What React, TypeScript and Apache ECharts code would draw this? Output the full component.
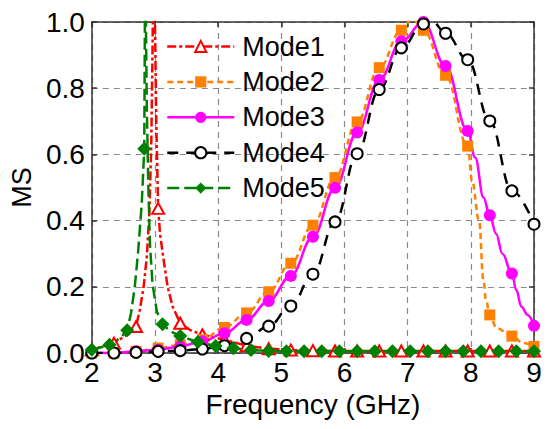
import React, { useEffect, useRef } from "react";
import * as echarts from "echarts";

const FONT = "'Liberation Sans', Arial, sans-serif";

const xRange = [2, 9];
const yRange = [0, 1];
const seriesNames = ["Mode1", "Mode2", "Mode3", "Mode4", "Mode5"];

// [frequency GHz, MS, marker shown (1) or not (0)]
const mode1: number[][] = [
  [2.0, 0.01, 1], [2.35, 0.03, 1], [2.6, 0.06, 0], [2.7, 0.08, 1],
  [2.76, 0.13, 0], [2.82, 0.2, 0], [2.87, 0.29, 0], [2.91, 0.42, 0],
  [2.94, 0.62, 0], [2.96, 0.9, 0], [2.98, 1.3, 0], [3.0, 1.0, 0],
  [3.02, 0.7, 0], [3.05, 0.437, 1], [3.08, 0.36, 0], [3.13, 0.29, 0],
  [3.2, 0.2, 0], [3.28, 0.14, 0], [3.4, 0.09, 1], [3.55, 0.07, 0],
  [3.75, 0.055, 1], [4.1, 0.04, 1], [4.45, 0.022, 1], [4.8, 0.013, 1],
  [5.15, 0.009, 1], [5.5, 0.007, 1], [5.85, 0.006, 1], [6.2, 0.006, 1],
  [6.55, 0.006, 1], [6.9, 0.006, 1], [7.25, 0.006, 1], [7.6, 0.006, 1],
  [7.95, 0.006, 1], [8.3, 0.006, 1], [8.65, 0.006, 1], [9.0, 0.006, 1],
];

const mode2: number[][] = [
  [2.0, 0.0, 1], [2.35, 0.0, 1], [2.7, 0.005, 1], [3.05, 0.015, 1],
  [3.4, 0.025, 1], [3.75, 0.04, 1], [4.1, 0.077, 1], [4.45, 0.121, 1],
  [4.8, 0.185, 1], [5.15, 0.271, 1], [5.5, 0.386, 1], [5.85, 0.53, 1],
  [6.2, 0.698, 1], [6.55, 0.862, 1], [6.9, 0.975, 1], [7.07, 1.01, 0],
  [7.25, 0.975, 1], [7.6, 0.839, 1], [7.95, 0.625, 1], [8.02, 0.52, 0],
  [8.13, 0.4, 0], [8.2, 0.22, 0], [8.24, 0.16, 0], [8.3, 0.115, 1],
  [8.41, 0.075, 0], [8.65, 0.051, 1], [8.83, 0.03, 0], [9.0, 0.02, 1],
];

const mode3: number[][] = [
  [2.0, 0.0, 1], [2.35, 0.0, 1], [2.7, 0.005, 1], [3.05, 0.01, 1],
  [3.4, 0.02, 1], [3.75, 0.035, 1], [4.1, 0.06, 1], [4.45, 0.1, 1],
  [4.8, 0.157, 1], [5.15, 0.233, 1], [5.5, 0.351, 1], [5.85, 0.499, 1],
  [6.2, 0.666, 1], [6.55, 0.825, 1], [6.9, 0.942, 1], [7.25, 1.0, 1],
  [7.6, 0.867, 1], [7.95, 0.671, 1], [8.07, 0.59, 0], [8.2, 0.47, 0],
  [8.3, 0.416, 1], [8.4, 0.36, 0], [8.5, 0.3, 0], [8.65, 0.24, 1],
  [8.72, 0.19, 0], [8.8, 0.14, 0], [8.9, 0.115, 0], [9.0, 0.082, 1],
];

const mode4: number[][] = [
  [2.0, 0.0, 1], [2.35, 0.0, 1], [2.7, 0.002, 1], [3.05, 0.005, 1],
  [3.4, 0.007, 1], [3.75, 0.012, 1], [4.1, 0.022, 1], [4.45, 0.044, 1],
  [4.8, 0.081, 1], [5.15, 0.142, 1], [5.5, 0.238, 1], [5.85, 0.396, 1],
  [6.2, 0.602, 1], [6.55, 0.796, 1], [6.9, 0.922, 1], [7.25, 0.994, 1],
  [7.4, 1.0, 0], [7.6, 0.966, 1], [7.95, 0.886, 1], [8.3, 0.701, 1],
  [8.65, 0.49, 1], [9.0, 0.389, 1],
];

const mode5: number[][] = [
  [2.0, 0.01, 1], [2.28, 0.025, 1], [2.45, 0.045, 0], [2.56, 0.069, 1],
  [2.62, 0.12, 0], [2.68, 0.2, 0], [2.73, 0.3, 0], [2.79, 0.45, 0],
  [2.83, 0.617, 1], [2.845, 1.2, 0], [2.87, 0.75, 0], [2.895, 0.5, 0],
  [2.92, 0.33, 0], [2.96, 0.21, 0], [3.03, 0.125, 0], [3.12, 0.087, 1],
  [3.25, 0.065, 0], [3.4, 0.051, 1], [3.68, 0.033, 1], [3.96, 0.021, 1],
  [4.24, 0.014, 1], [4.52, 0.009, 1], [4.8, 0.006, 1], [5.08, 0.005, 1],
  [5.36, 0.005, 1], [5.64, 0.005, 1], [5.92, 0.005, 1], [6.2, 0.005, 1],
  [6.48, 0.005, 1], [6.76, 0.005, 1], [7.04, 0.005, 1], [7.32, 0.005, 1],
  [7.6, 0.005, 1], [7.88, 0.005, 1], [8.16, 0.005, 1], [8.44, 0.005, 1],
  [8.72, 0.005, 1], [9.0, 0.005, 1],
];

const toData = (arr: number[][]) =>
  arr.map((p) => (p[2] ? { value: [p[0], p[1]] } : { value: [p[0], p[1]], symbol: "none" }));

export default function App() {
  const ref = useRef<HTMLDivElement>(null);
  useEffect(() => {
    if (!ref.current) return;
    const chart = echarts.init(ref.current, undefined, { renderer: "svg" });
    const axisLine = { show: true, onZero: false, lineStyle: { color: "#333", width: 1.5 } };
    const axisTick = { show: true, inside: true, length: 5, lineStyle: { color: "#333", width: 1.5 } };
    const splitLine = { show: true, lineStyle: { color: "#8a8a8a", width: 1.2, type: [6, 5] } };
    const common = {
      type: "line" as const,
      showAllSymbol: true,
      clip: true,
      emphasis: { disabled: true },
      z: 2,
    };
    chart.setOption({
      animation: false,
      grid: { left: 88, right: 16, top: 22, bottom: 76, show: false },
      legend: {
        orient: "vertical",
        left: 161,
        top: 28,
        itemWidth: 67,
        itemHeight: 14,
        itemGap: 8.4,
        data: seriesNames,
        selectedMode: false,
        lineStyle: { width: 2.5 },
        textStyle: { fontSize: 27, lineHeight: 27, color: "#000", fontFamily: FONT, padding: [0, 0, 0, 3] },
      },
      xAxis: [
        {
          type: "value",
          min: xRange[0],
          max: xRange[1],
          interval: 1,
          axisLine,
          axisTick,
          splitLine,
          axisLabel: { fontSize: 28, color: "#000", fontFamily: FONT, margin: 5 },
          name: "Frequency (GHz)",
          nameLocation: "middle",
          nameGap: 37,
          nameTextStyle: { fontSize: 28, color: "#000", fontFamily: FONT },
        },
        {
          type: "value",
          position: "top",
          min: xRange[0],
          max: xRange[1],
          interval: 1,
          axisLine,
          axisTick,
          splitLine: { show: false },
          axisLabel: { show: false },
        },
      ],
      yAxis: [
        {
          type: "value",
          min: yRange[0],
          max: yRange[1],
          interval: 0.2,
          axisLine,
          axisTick,
          splitLine,
          axisLabel: {
            fontSize: 28,
            color: "#000",
            fontFamily: FONT,
            margin: 7,
            formatter: (v: number) => v.toFixed(1),
          },
          name: "MS",
          nameLocation: "middle",
          nameGap: 54,
          nameTextStyle: { fontSize: 27, color: "#000", fontFamily: FONT },
        },
        {
          type: "value",
          position: "right",
          min: yRange[0],
          max: yRange[1],
          interval: 0.2,
          axisLine,
          axisTick,
          splitLine: { show: false },
          axisLabel: { show: false },
        },
      ],
      series: [
        {
          ...common,
          name: seriesNames[0],
          data: toData(mode1),
          symbol: "emptyTriangle",
          symbolSize: [12, 11],
          lineStyle: { color: "#ff0000", width: 2.5, type: [9, 3, 3, 3] },
          itemStyle: { color: "#ff0000", borderWidth: 1.5 },
        },
        {
          ...common,
          name: seriesNames[1],
          data: toData(mode2),
          smooth: 0.4,
          smoothMonotone: "x",
          symbol: "rect",
          symbolSize: 11,
          lineStyle: { color: "#ff8000", width: 2.5, type: [6, 4] },
          itemStyle: { color: "#ff8000", borderWidth: 0 },
        },
        {
          ...common,
          name: seriesNames[2],
          data: toData(mode3),
          smooth: 0.4,
          smoothMonotone: "x",
          symbol: "circle",
          symbolSize: 12,
          lineStyle: { color: "#ff00ff", width: 2.5, type: "solid" },
          itemStyle: { color: "#ff00ff", borderWidth: 0 },
        },
        {
          ...common,
          name: seriesNames[3],
          data: toData(mode4),
          smooth: 0.4,
          smoothMonotone: "x",
          symbol: "emptyCircle",
          symbolSize: 11,
          lineStyle: { color: "#000000", width: 2.5, type: [11, 8] },
          itemStyle: { color: "#000000", borderWidth: 1.2 },
        },
        {
          ...common,
          name: seriesNames[4],
          data: toData(mode5),
          symbol: "diamond",
          symbolSize: 14,
          lineStyle: { color: "#008000", width: 2.5, type: [12, 5] },
          itemStyle: { color: "#008000", borderWidth: 0 },
        },
      ],
    });
    return () => chart.dispose();
  }, []);
  return (
    <div
      ref={ref}
      style={{ position: "fixed", left: 0, top: 0, width: 550, height: 429, background: "#fff" }}
    />
  );
}
